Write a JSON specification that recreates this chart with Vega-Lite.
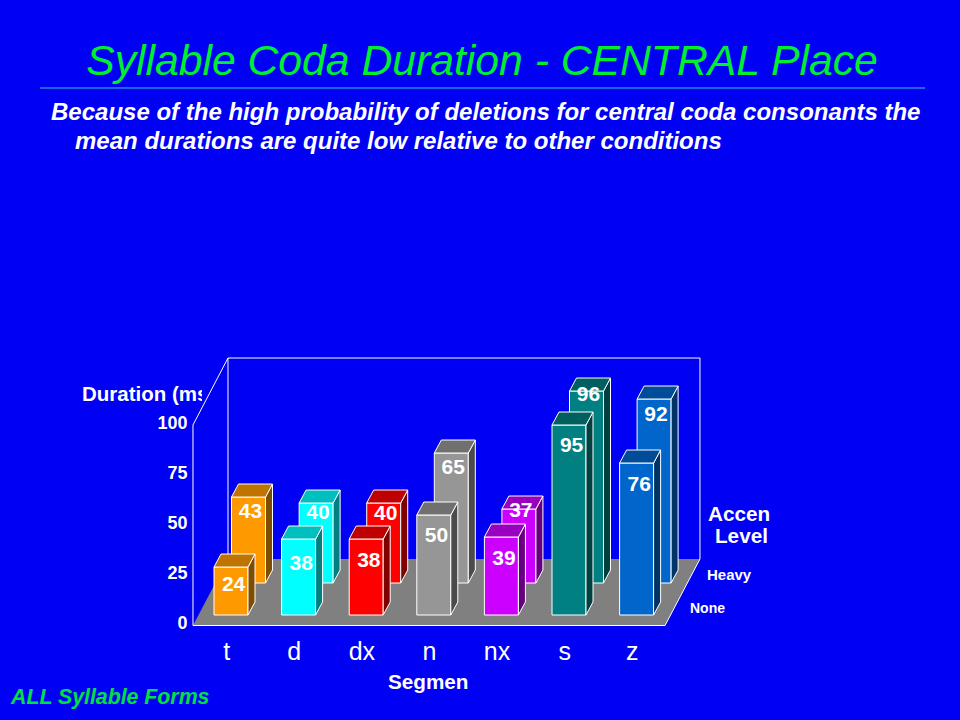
{
"$schema":"https://vega.github.io/schema/vega-lite/v6.json",
"width":960,"height":720,"padding":0,"autosize":{"type":"none"},
"background":"#0000F5",
"view":{"stroke":null},
"title":{"text":"Syllable Coda Duration - CENTRAL Place","anchor":"middle","frame":"group","dy":87.5,"dx":2,"font":"Liberation Sans","fontStyle":"italic","fontWeight":"normal","fontSize":42.7,"color":"#00F030"},
"resolve":{"axis":{"x":"independent","y":"independent"}},
"datasets":{"bars":[
{"segment":"t","accent":"None","value":24},{"segment":"d","accent":"None","value":38},{"segment":"dx","accent":"None","value":38},{"segment":"n","accent":"None","value":50},{"segment":"nx","accent":"None","value":39},{"segment":"s","accent":"None","value":95},{"segment":"z","accent":"None","value":76},
{"segment":"t","accent":"Heavy","value":43},{"segment":"d","accent":"Heavy","value":40},{"segment":"dx","accent":"Heavy","value":40},{"segment":"n","accent":"Heavy","value":65},{"segment":"nx","accent":"Heavy","value":37},{"segment":"s","accent":"Heavy","value":96},{"segment":"z","accent":"Heavy","value":92}
]},
"data":{"values":[{"note":"frame"}]},
"layer":[
{"transform":[{"calculate":"[0,1,2,3]","as":"t"},{"flatten":["t"]},{"calculate":"[-0.311,0.207,6.672,7.189][datum.t]","as":"fx"},{"calculate":"[-1.25,32,32,32][datum.t]","as":"fy"},{"calculate":"[-1.25,-1.25,-1.25,32][datum.t]","as":"fy2"}],
 "mark":{"type":"area","color":"#808080","orient":"vertical","clip":false},
 "encoding":{
  "x":{"field":"fx","type":"quantitative","scale":{"domain":[-3.1657,11.0355],"nice":false,"zero":false},
   "axis":{"orient":"bottom","offset":-95,"title":null,"grid":false,"domain":false,"ticks":false,"values":[0.18,1.18,2.18,3.18,4.18,5.18,6.18],"labelExpr":"['t','d','dx','n','nx','s','z'][floor(datum.value)]","labelFont":"Liberation Sans","labelFontSize":25,"labelColor":"white","labelPadding":14,"labelAlign":"center"}},
  "y":{"field":"fy","type":"quantitative","stack":null,"scale":{"domain":[-48.5,311.5],"nice":false,"zero":false},
   "axis":{"orient":"left","offset":-193,"title":null,"grid":false,"domain":false,"ticks":false,"values":[0,25,50,75,100],"labelFont":"Liberation Sans","labelFontWeight":"bold","labelFontSize":18,"labelColor":"white","labelPadding":6}},
  "y2":{"field":"fy2"}
 }},
{"mark":{"type":"text","align":"left","baseline":"alphabetic","font":"Liberation Sans","fontWeight":"bold","fontSize":20.5,"color":"white","text":"Duration (ms"},"encoding":{"x":{"datum":-1.953,"type":"quantitative","axis":null},"y":{"datum":111,"type":"quantitative","axis":null}}},
{"mark":{"type":"rect","color":"#0000F5"},"encoding":{"x":{"datum":-0.178,"type":"quantitative","axis":null},"x2":{"datum":0.207},"y":{"datum":119,"type":"quantitative","axis":null},"y2":{"datum":106.5}}},
{"mark":{"type":"rule","color":"white","strokeWidth":1},"encoding":{"x":{"datum":-0.311,"type":"quantitative","axis":null},"y":{"datum":-1.25,"type":"quantitative","axis":null},"y2":{"datum":99}}},
{"mark":{"type":"rule","color":"white","strokeWidth":1},"encoding":{"x":{"datum":-0.311,"type":"quantitative","axis":null},"x2":{"datum":0.207},"y":{"datum":99,"type":"quantitative","axis":null},"y2":{"datum":132.5}}},
{"mark":{"type":"rule","color":"white","strokeWidth":1},"encoding":{"x":{"datum":0.207,"type":"quantitative","axis":null},"x2":{"datum":7.189},"y":{"datum":132.5,"type":"quantitative","axis":null}}},
{"mark":{"type":"rule","color":"white","strokeWidth":1},"encoding":{"x":{"datum":7.189,"type":"quantitative","axis":null},"y":{"datum":132.5,"type":"quantitative","axis":null},"y2":{"datum":32}}},
{"mark":{"type":"rule","color":"white","strokeWidth":1},"encoding":{"x":{"datum":0.207,"type":"quantitative","axis":null},"y":{"datum":132.5,"type":"quantitative","axis":null},"y2":{"datum":32}}},
{"mark":{"type":"rule","color":"white","strokeWidth":1},"encoding":{"x":{"datum":7.189,"type":"quantitative","axis":null},"x2":{"datum":6.672},"y":{"datum":32,"type":"quantitative","axis":null},"y2":{"datum":-1.25}}},
{"mark":{"type":"rule","color":"white","strokeWidth":1},"encoding":{"x":{"datum":-0.311,"type":"quantitative","axis":null},"x2":{"datum":6.672},"y":{"datum":-1.25,"type":"quantitative","axis":null}}},
{"mark":{"type":"rule","color":"#40C8D8","strokeWidth":1},"encoding":{"x":{"datum":-2.574,"type":"quantitative","axis":null},"x2":{"datum":10.518},"y":{"datum":267.5,"type":"quantitative","axis":null}}},
{"data":{"name":"bars"},
 "transform":[
  {"filter":"datum.accent==='Heavy'"},
  {"calculate":"indexof(['t','d','dx','n','nx','s','z'],datum.segment)+0.259","as":"xL"},
  {"calculate":"datum.xL+0.503","as":"xR"},
  {"calculate":"20","as":"base"},
  {"calculate":"datum.base+datum.value","as":"top"},
  {"calculate":"{'t':7.5,'d':5,'dx':5.5,'n':7.5,'nx':1,'s':2,'z':8}[datum.segment]","as":"drop"},
  {"calculate":"datum.top-datum.drop","as":"labelV"},
  {"calculate":"datum.xL+0.28","as":"labelX"}
 ],
 "layer":[
  {"mark":{"type":"rect","stroke":"white","strokeWidth":1},
   "encoding":{"x":{"field":"xL","type":"quantitative","axis":null},"x2":{"field":"xR"},"y":{"field":"top","type":"quantitative","axis":null},"y2":{"field":"base"},
    "color":{"field":"segment","type":"nominal","legend":null,"scale":{"domain":["t","d","dx","n","nx","s","z","t side","d side","dx side","n side","nx side","s side","z side","t top","d top","dx top","n top","nx top","s top","z top"],"range":["#FF9900","#00FFFF","#FF0000","#969696","#CC00FF","#008080","#0066CC","#7F4D00","#008080","#800000","#4B4B4B","#660080","#004040","#003366","#BF7300","#00BFBF","#BF0000","#707070","#9900BF","#006060","#004C99"]}}}},
  {"transform":[{"calculate":"datum.segment+' side'","as":"key"},{"calculate":"[0,1]","as":"t"},{"flatten":["t"]},{"calculate":"datum.xR+datum.t*0.1036","as":"fx"},{"calculate":"datum.top+datum.t*6.5","as":"fy"},{"calculate":"datum.base+datum.t*6.5","as":"fy2"}],
   "mark":{"type":"area","orient":"vertical","stroke":"white","strokeWidth":1},
   "encoding":{"x":{"field":"fx","type":"quantitative","axis":null},"y":{"field":"fy","type":"quantitative","stack":null,"axis":null},"y2":{"field":"fy2"},"color":{"field":"key","type":"nominal","legend":null}}},
  {"transform":[{"calculate":"datum.segment+' top'","as":"key"},{"calculate":"[0,1,2,3]","as":"t"},{"flatten":["t"]},{"calculate":"datum.xL+[0,0.1036,0.503,0.6066][datum.t]","as":"fx"},{"calculate":"datum.top+[0,6.5,6.5,6.5][datum.t]","as":"fy"},{"calculate":"datum.top+[0,0,0,6.5][datum.t]","as":"fy2"}],
   "mark":{"type":"area","orient":"vertical","stroke":"white","strokeWidth":1},
   "encoding":{"x":{"field":"fx","type":"quantitative","axis":null},"y":{"field":"fy","type":"quantitative","stack":null,"axis":null},"y2":{"field":"fy2"},"color":{"field":"key","type":"nominal","legend":null}}},
  {"mark":{"type":"text","align":"center","baseline":"middle","font":"Liberation Sans","fontWeight":"bold","fontSize":21,"color":"white"},
   "encoding":{"x":{"field":"labelX","type":"quantitative","axis":null},"y":{"field":"labelV","type":"quantitative","axis":null},"text":{"field":"value","type":"quantitative"}}}
 ]},
{"data":{"name":"bars"},
 "transform":[
  {"filter":"datum.accent==='None'"},
  {"calculate":"indexof(['t','d','dx','n','nx','s','z'],datum.segment)","as":"xL"},
  {"calculate":"datum.xL+0.503","as":"xR"},
  {"calculate":"4","as":"base"},
  {"calculate":"datum.base+datum.value","as":"top"},
  {"calculate":"{'t':9,'d':12.5,'dx':11,'n':10.5,'nx':11,'s':10.5,'z':11}[datum.segment]","as":"drop"},
  {"calculate":"datum.top-datum.drop","as":"labelV"},
  {"calculate":"datum.xL+0.29","as":"labelX"}
 ],
 "layer":[
  {"mark":{"type":"rect","stroke":"white","strokeWidth":1},
   "encoding":{"x":{"field":"xL","type":"quantitative","axis":null},"x2":{"field":"xR"},"y":{"field":"top","type":"quantitative","axis":null},"y2":{"field":"base"},"color":{"field":"segment","type":"nominal","legend":null}}},
  {"transform":[{"calculate":"datum.segment+' side'","as":"key"},{"calculate":"[0,1]","as":"t"},{"flatten":["t"]},{"calculate":"datum.xR+datum.t*0.1036","as":"fx"},{"calculate":"datum.top+datum.t*6.5","as":"fy"},{"calculate":"datum.base+datum.t*6.5","as":"fy2"}],
   "mark":{"type":"area","orient":"vertical","stroke":"white","strokeWidth":1},
   "encoding":{"x":{"field":"fx","type":"quantitative","axis":null},"y":{"field":"fy","type":"quantitative","stack":null,"axis":null},"y2":{"field":"fy2"},"color":{"field":"key","type":"nominal","legend":null}}},
  {"transform":[{"calculate":"datum.segment+' top'","as":"key"},{"calculate":"[0,1,2,3]","as":"t"},{"flatten":["t"]},{"calculate":"datum.xL+[0,0.1036,0.503,0.6066][datum.t]","as":"fx"},{"calculate":"datum.top+[0,6.5,6.5,6.5][datum.t]","as":"fy"},{"calculate":"datum.top+[0,0,0,6.5][datum.t]","as":"fy2"}],
   "mark":{"type":"area","orient":"vertical","stroke":"white","strokeWidth":1},
   "encoding":{"x":{"field":"fx","type":"quantitative","axis":null},"y":{"field":"fy","type":"quantitative","stack":null,"axis":null},"y2":{"field":"fy2"},"color":{"field":"key","type":"nominal","legend":null}}},
  {"mark":{"type":"text","align":"center","baseline":"middle","font":"Liberation Sans","fontWeight":"bold","fontSize":21,"color":"white"},
   "encoding":{"x":{"field":"labelX","type":"quantitative","axis":null},"y":{"field":"labelV","type":"quantitative","axis":null},"text":{"field":"value","type":"quantitative"}}}
 ]},
{"mark":{"type":"text","align":"left","baseline":"alphabetic","font":"Liberation Sans","fontWeight":"bold","fontStyle":"italic","fontSize":24,"color":"white","text":"Because of the high probability of deletions for central coda consonants the"},"encoding":{"x":{"datum":-2.411,"type":"quantitative","axis":null},"y":{"datum":251.5,"type":"quantitative","axis":null}}},
{"mark":{"type":"text","align":"left","baseline":"alphabetic","font":"Liberation Sans","fontWeight":"bold","fontStyle":"italic","fontSize":24,"color":"white","text":"mean durations are quite low relative to other conditions"},"encoding":{"x":{"datum":-2.056,"type":"quantitative","axis":null},"y":{"datum":237,"type":"quantitative","axis":null}}},
{"mark":{"type":"text","align":"left","baseline":"alphabetic","font":"Liberation Sans","fontWeight":"bold","fontStyle":"italic","fontSize":21.3,"color":"#00E040","text":"ALL Syllable Forms"},"encoding":{"x":{"datum":-3.003,"type":"quantitative","axis":null},"y":{"datum":-40.5,"type":"quantitative","axis":null}}},
{"mark":{"type":"text","align":"left","baseline":"alphabetic","font":"Liberation Sans","fontWeight":"bold","fontSize":20.7,"color":"white","text":"Segmen"},"encoding":{"x":{"datum":2.574,"type":"quantitative","axis":null},"y":{"datum":-33,"type":"quantitative","axis":null}}},
{"mark":{"type":"text","align":"left","baseline":"alphabetic","font":"Liberation Sans","fontWeight":"bold","fontSize":20.7,"color":"white","text":"Accen"},"encoding":{"x":{"datum":7.308,"type":"quantitative","axis":null},"y":{"datum":51,"type":"quantitative","axis":null}}},
{"mark":{"type":"text","align":"left","baseline":"alphabetic","font":"Liberation Sans","fontWeight":"bold","fontSize":20.7,"color":"white","text":"Level"},"encoding":{"x":{"datum":7.411,"type":"quantitative","axis":null},"y":{"datum":40,"type":"quantitative","axis":null}}},
{"mark":{"type":"text","align":"left","baseline":"alphabetic","font":"Liberation Sans","fontWeight":"bold","fontSize":15,"color":"white","text":"Heavy"},"encoding":{"x":{"datum":7.293,"type":"quantitative","axis":null},"y":{"datum":21.5,"type":"quantitative","axis":null}}},
{"mark":{"type":"text","align":"left","baseline":"alphabetic","font":"Liberation Sans","fontWeight":"bold","fontSize":14,"color":"white","text":"None"},"encoding":{"x":{"datum":7.041,"type":"quantitative","axis":null},"y":{"datum":5,"type":"quantitative","axis":null}}}
]
}
